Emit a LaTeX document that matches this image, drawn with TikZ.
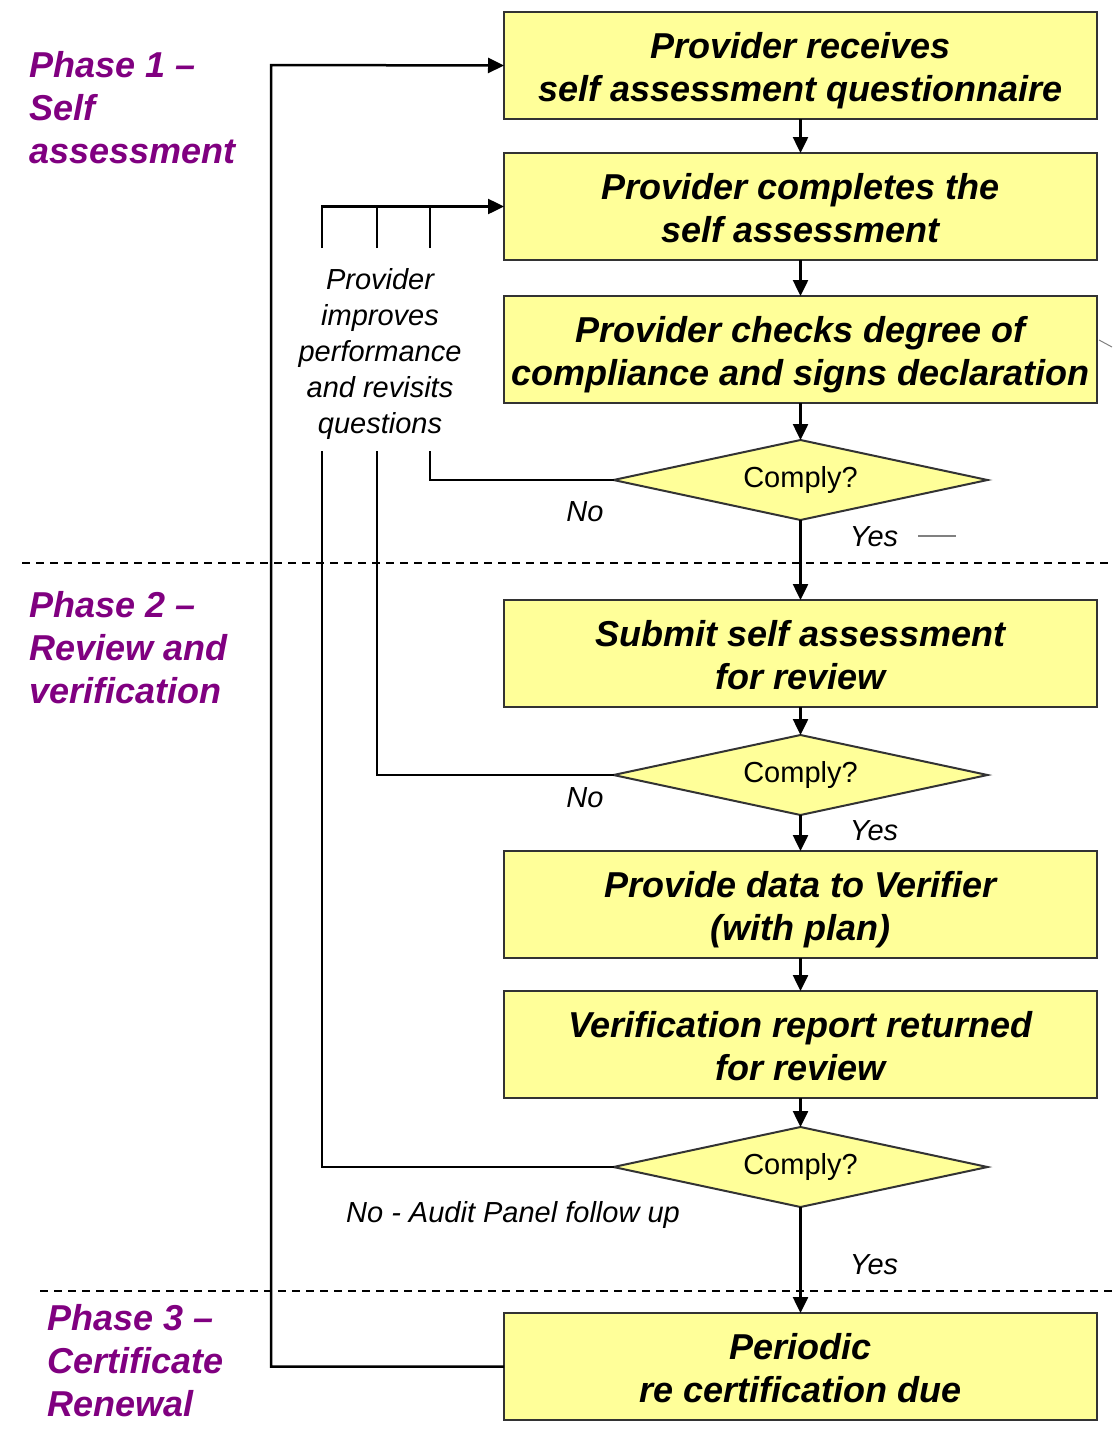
\documentclass[tikz,border=0pt]{standalone}
\usepackage{fontspec}
\setmainfont{Liberation Sans}
\usetikzlibrary{shapes.geometric, arrows.meta, positioning}
\definecolor{boxfill}{HTML}{FFFF99}
\definecolor{phasecol}{HTML}{800080}

\begin{document}
\begin{tikzpicture}[x=1pt,y=-1pt,->,>={Triangle[length=16pt,width=15pt]},line width=2.5pt]
	\tikzset{box/.style={rectangle,draw=black!80,fill=boxfill,line width=2.5pt,minimum width=593pt,minimum height=107pt,inner sep=3pt,outer sep=0pt,text height=80pt,text depth=9pt,align=center,font=\fontsize{36}{43}\selectfont\bfseries\itshape},
		decision/.style={diamond,draw=black!80,fill=boxfill,line width=2pt,minimum width=374pt,minimum height=80pt,inner sep=0pt,outer sep=0pt,aspect=4.7,font=\fontsize{29}{35}\selectfont},
		phase/.style={anchor=north west,align=left,inner sep=0pt,text=phasecol,font=\fontsize{36}{43}\selectfont\bfseries\itshape},
		lbl/.style={font=\fontsize{29}{36}\selectfont\itshape},
		divider/.style={-,line width=1.5pt,dash pattern=on 8pt off 6pt}}
	\useasboundingbox (0,0) rectangle (1112,1430);
	% phase 1
	\node[box] (1) at (800.5,65.5) {Provider receives\\self assessment questionnaire};
	\node[box] (2) [below=34pt of 1] {Provider completes the\\self assessment};
	\node[box] (3) [below=36pt of 2] {Provider checks degree of\\compliance and signs declaration};
	\node[decision] (d1) [below=37pt of 3] {Comply?};
	% phase 2
	\node[box] (4) [below=80pt of d1] {Submit self assessment\\for review};
	\node[decision] (d2) [below=28pt of 4] {Comply?};
	\node[box] (5) [below=36pt of d2] {Provide data to Verifier\\(with plan)};
	\node[box] (6) [below=33pt of 5] {Verification report returned\\for review};
	\node[decision] (d3) [below=29pt of 6] {Comply?};
	% phase 3
	\node[box] (7) [below=106pt of d3] {Periodic\\re certification due};

	\node[phase] (ph1) at (28,50) {Phase 1 --\\Self\\assessment};
	\node[phase] (ph2) at (28,590) {Phase 2 --\\Review and\\verification};
	\node[phase] (ph3) at (46,1303) {Phase 3 --\\Certificate\\Renewal};

	\node[lbl,align=center] (fix) at (380,354) {Provider\\improves\\performance\\and revisits\\questions};
	\node[lbl] (no1) at (585,512) {No};
	\node[lbl] (yes1) at (874,537) {Yes};
	\node[lbl] (no2) at (585,798) {No};
	\node[lbl] (yes2) at (874,831) {Yes};
	\node[lbl] (no3) at (513,1215) {No - Audit Panel follow up};
	\node[lbl] (yes3) at (874,1265) {Yes};

	\coordinate (r1) at (430,451);
	\coordinate (r2) at (377,451);
	\coordinate (r3) at (322,451);
	\coordinate (u1) at (430,248);
	\coordinate (u2) at (377,248);
	\coordinate (u3) at (322,248);
	\coordinate (loop) at (271,65);
	\coordinate (cut1) at (22,563);
	\coordinate (cut1e) at (1112,563);
	\coordinate (cut2) at (40,1291);
	\coordinate (cut2e) at (1112,1291);
	\coordinate (g1) at (918,536);
	\coordinate (g2) at (956,536);
	\coordinate (g3) at (1099,340);
	\coordinate (g4) at (1112,347);

	\draw[divider] (cut1) -- (cut1e);
	\draw[divider] (cut2) -- (cut2e);

	\path
		(1) edge (2)
		(2) edge (3)
		(3) edge (d1)
		(d1) edge (4)
		(4) edge (d2)
		(d2) edge (5)
		(5) edge (6)
		(6) edge (d3)
		(d3) edge (7);

	% back to the questions
	\draw[-] (d1.west) -| (r1);
	\draw[-] (d2.west) -| (r2);
	\draw[-] (d3.west) -| (r3);
	\draw (u3) |- (2.west);
	\draw[-] (u2) -- (u2 |- 2.west);
	\draw[-] (u1) -- (u1 |- 2.west);
	\draw (7.west) -| (loop) -- (1.west);

	\draw[-,gray,line width=1.5pt] (g1) -- (g2);
	\draw[-,gray,line width=1pt] (g3) -- (g4);
\end{tikzpicture}
\end{document}
